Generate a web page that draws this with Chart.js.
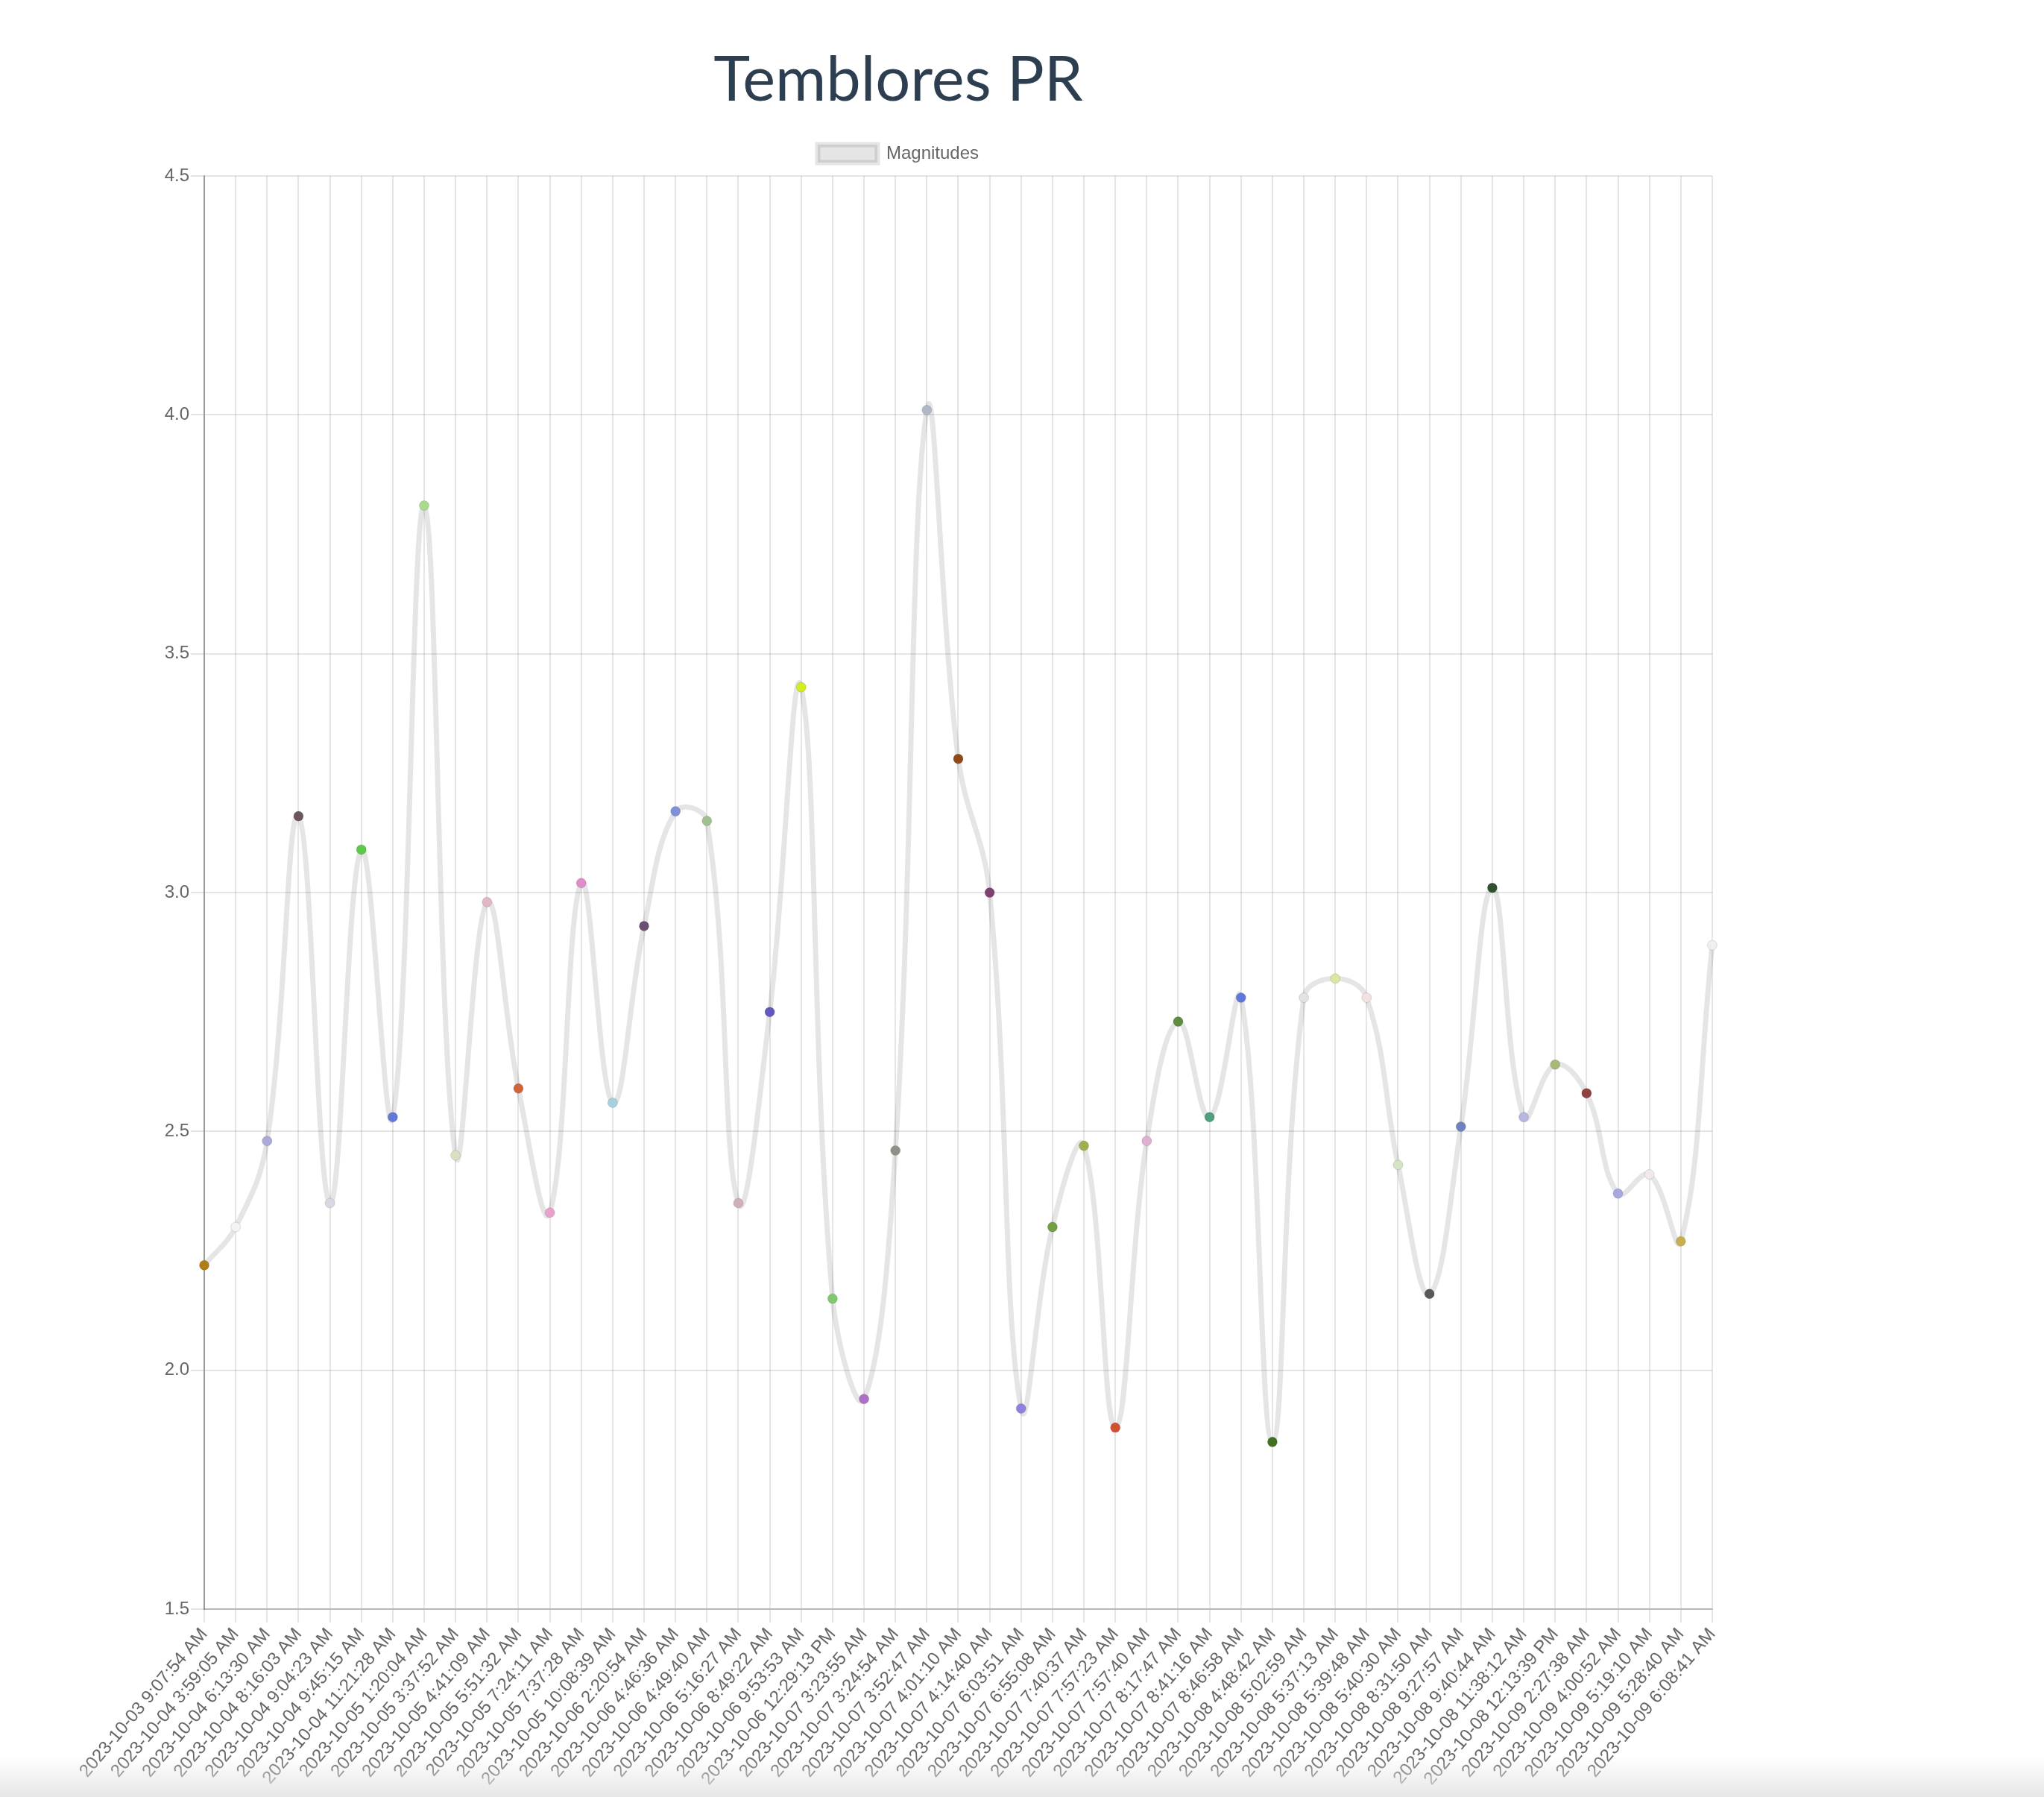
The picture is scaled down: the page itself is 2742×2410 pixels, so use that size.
<!DOCTYPE html>
<html>
<head>
<meta charset="utf-8">
<script src="https://cdn.jsdelivr.net/npm/chart.js@4.4.0/dist/chart.umd.min.js"></script>
<style>
  body { margin: 0; background: #fff; width: 2742px; height: 2410px; overflow: hidden; position: relative; }
  #wrap { position: absolute; left: 89px; top: 0; width: 2232px; height: 2410px; }
  h1 {
    position: absolute; left: 0; right: 0; top: 62px; margin: 0;
    text-align: center; font-family: Lato, 'Noto Sans', sans-serif; font-weight: 400;
    font-size: 83px; line-height: 1; color: #2c3e50;
  }
  #box { position: absolute; left: 0; top: 184px; width: 2232px; height: 2218px; }
  #shade { position: absolute; left: 0; right: 0; bottom: 0; height: 55px;
    background: linear-gradient(to bottom, rgba(233,233,233,0), #e6e6e6); }
</style>
</head>
<body>
<div id="wrap">
  <h1>Temblores PR</h1>
  <div id="box"><canvas id="temblores"></canvas></div>
</div>
<div id="shade"></div>
<script>
const fechas = [
  '2023-10-03 9:07:54 AM', '2023-10-04 3:59:05 AM', '2023-10-04 6:13:30 AM', '2023-10-04 8:16:03 AM',
  '2023-10-04 9:04:23 AM', '2023-10-04 9:45:15 AM', '2023-10-04 11:21:28 AM', '2023-10-05 1:20:04 AM',
  '2023-10-05 3:37:52 AM', '2023-10-05 4:41:09 AM', '2023-10-05 5:51:32 AM', '2023-10-05 7:24:11 AM',
  '2023-10-05 7:37:28 AM', '2023-10-05 10:08:39 AM', '2023-10-06 2:20:54 AM', '2023-10-06 4:46:36 AM',
  '2023-10-06 4:49:40 AM', '2023-10-06 5:16:27 AM', '2023-10-06 8:49:22 AM', '2023-10-06 9:53:53 AM',
  '2023-10-06 12:29:13 PM', '2023-10-07 3:23:55 AM', '2023-10-07 3:24:54 AM', '2023-10-07 3:52:47 AM',
  '2023-10-07 4:01:10 AM', '2023-10-07 4:14:40 AM', '2023-10-07 6:03:51 AM', '2023-10-07 6:55:08 AM',
  '2023-10-07 7:40:37 AM', '2023-10-07 7:57:23 AM', '2023-10-07 7:57:40 AM', '2023-10-07 8:17:47 AM',
  '2023-10-07 8:41:16 AM', '2023-10-07 8:46:58 AM', '2023-10-08 4:48:42 AM', '2023-10-08 5:02:59 AM',
  '2023-10-08 5:37:13 AM', '2023-10-08 5:39:48 AM', '2023-10-08 5:40:30 AM', '2023-10-08 8:31:50 AM',
  '2023-10-08 9:27:57 AM', '2023-10-08 9:40:44 AM', '2023-10-08 11:38:12 AM', '2023-10-08 12:13:39 PM',
  '2023-10-09 2:27:38 AM', '2023-10-09 4:00:52 AM', '2023-10-09 5:19:10 AM', '2023-10-09 5:28:40 AM',
  '2023-10-09 6:08:41 AM'
];

const magnitudes = [
  2.22, 2.30, 2.48, 3.16, 2.35, 3.09, 2.53, 3.81, 2.45, 2.98,
  2.59, 2.33, 3.02, 2.56, 2.93, 3.17, 3.15, 2.35, 2.75, 3.43,
  2.15, 1.94, 2.46, 4.01, 3.28, 3.00, 1.92, 2.30, 2.47, 1.88,
  2.48, 2.73, 2.53, 2.78, 1.85, 2.78, 2.82, 2.78, 2.43, 2.16,
  2.51, 3.01, 2.53, 2.64, 2.58, 2.37, 2.41, 2.27, 2.89
];

const colores = [
  '#b07d1a', '#f4f4f4', '#aaaad8', '#6b5560', '#d8d8e2', '#5ec84a', '#6478d8', '#a8dc8c', '#dde0c0', '#e0b8c4',
  '#d0643c', '#e8a0cc', '#e08cc8', '#a8d0dc', '#6a5070', '#8090d8', '#a0c090', '#d0b0b8', '#6458c0', '#d4ec20',
  '#80c870', '#b070c8', '#909088', '#b0b8c8', '#904818', '#804070', '#9080e0', '#70a040', '#a0b050', '#d05030',
  '#e0b0d0', '#608c40', '#50a080', '#6078d8', '#407020', '#e2e2e2', '#d8e8a0', '#f2e2e2', '#d4e4c4', '#585858',
  '#7080c0', '#305030', '#b8b8e0', '#a8b878', '#904040', '#a8a8e0', '#f2eaea', '#c8b050', '#f0f0f0'
];

const yTicks = [1.5, 2.0, 2.5, 3.0, 3.5, 4.0, 4.5];

const tickFont = { family: "'Liberation Sans', Arial, sans-serif", size: 24 };

// a little more room between the legend and the plot
const legendGap = {
  id: 'legendGap',
  beforeInit(chart) {
    const fit = chart.legend.fit;
    chart.legend.fit = function () {
      fit.bind(chart.legend)();
      this.height += 8;
    };
  },
};

new Chart(document.getElementById('temblores'), {
  type: 'line',
  plugins: [legendGap],
  data: {
    labels: fechas,
    datasets: [
      {
        label: 'Magnitudes',
        data: magnitudes,
        borderColor: 'rgba(0,0,0,0.1)',
        backgroundColor: 'rgba(0,0,0,0.1)',
        borderWidth: 7,
        tension: 0.4,
        fill: false,
        pointRadius: 6.5,
        pointBorderWidth: 1,
        pointBackgroundColor: colores,
        pointBorderColor: 'rgba(0,0,0,0.12)',
      },
    ],
  },
  options: {
    responsive: true,
    maintainAspectRatio: false,
    animation: false,
    plugins: {
      legend: {
        labels: {
          color: '#666',
          font: { family: "'Liberation Sans', Arial, sans-serif", size: 24 },
          boxWidth: 80,
          boxHeight: 24,
        },
      },
      tooltip: { enabled: false },
    },
    scales: {
      x: {
        grid: { color: 'rgba(0,0,0,0.1)', lineWidth: 2, tickLength: 18 },
        border: { color: 'rgba(0,0,0,0.2)', width: 2 },
        ticks: { color: '#666', font: tickFont, maxRotation: 50, autoSkip: false, padding: 2 },
      },
      y: {
        min: yTicks[0],
        max: yTicks[yTicks.length - 1],
        afterBuildTicks: (scale) => { scale.ticks = yTicks.map((v) => ({ value: v })); },
        afterFit: (scale) => { scale.width = 185; },
        grid: { color: 'rgba(0,0,0,0.1)', lineWidth: 2, tickLength: 18 },
        border: { color: 'rgba(0,0,0,0.33)', width: 2 },
        ticks: { color: '#666', font: tickFont, padding: 2, callback: (v) => Number(v).toFixed(1) },
      },
    },
  },
});
</script>
</body>
</html>
